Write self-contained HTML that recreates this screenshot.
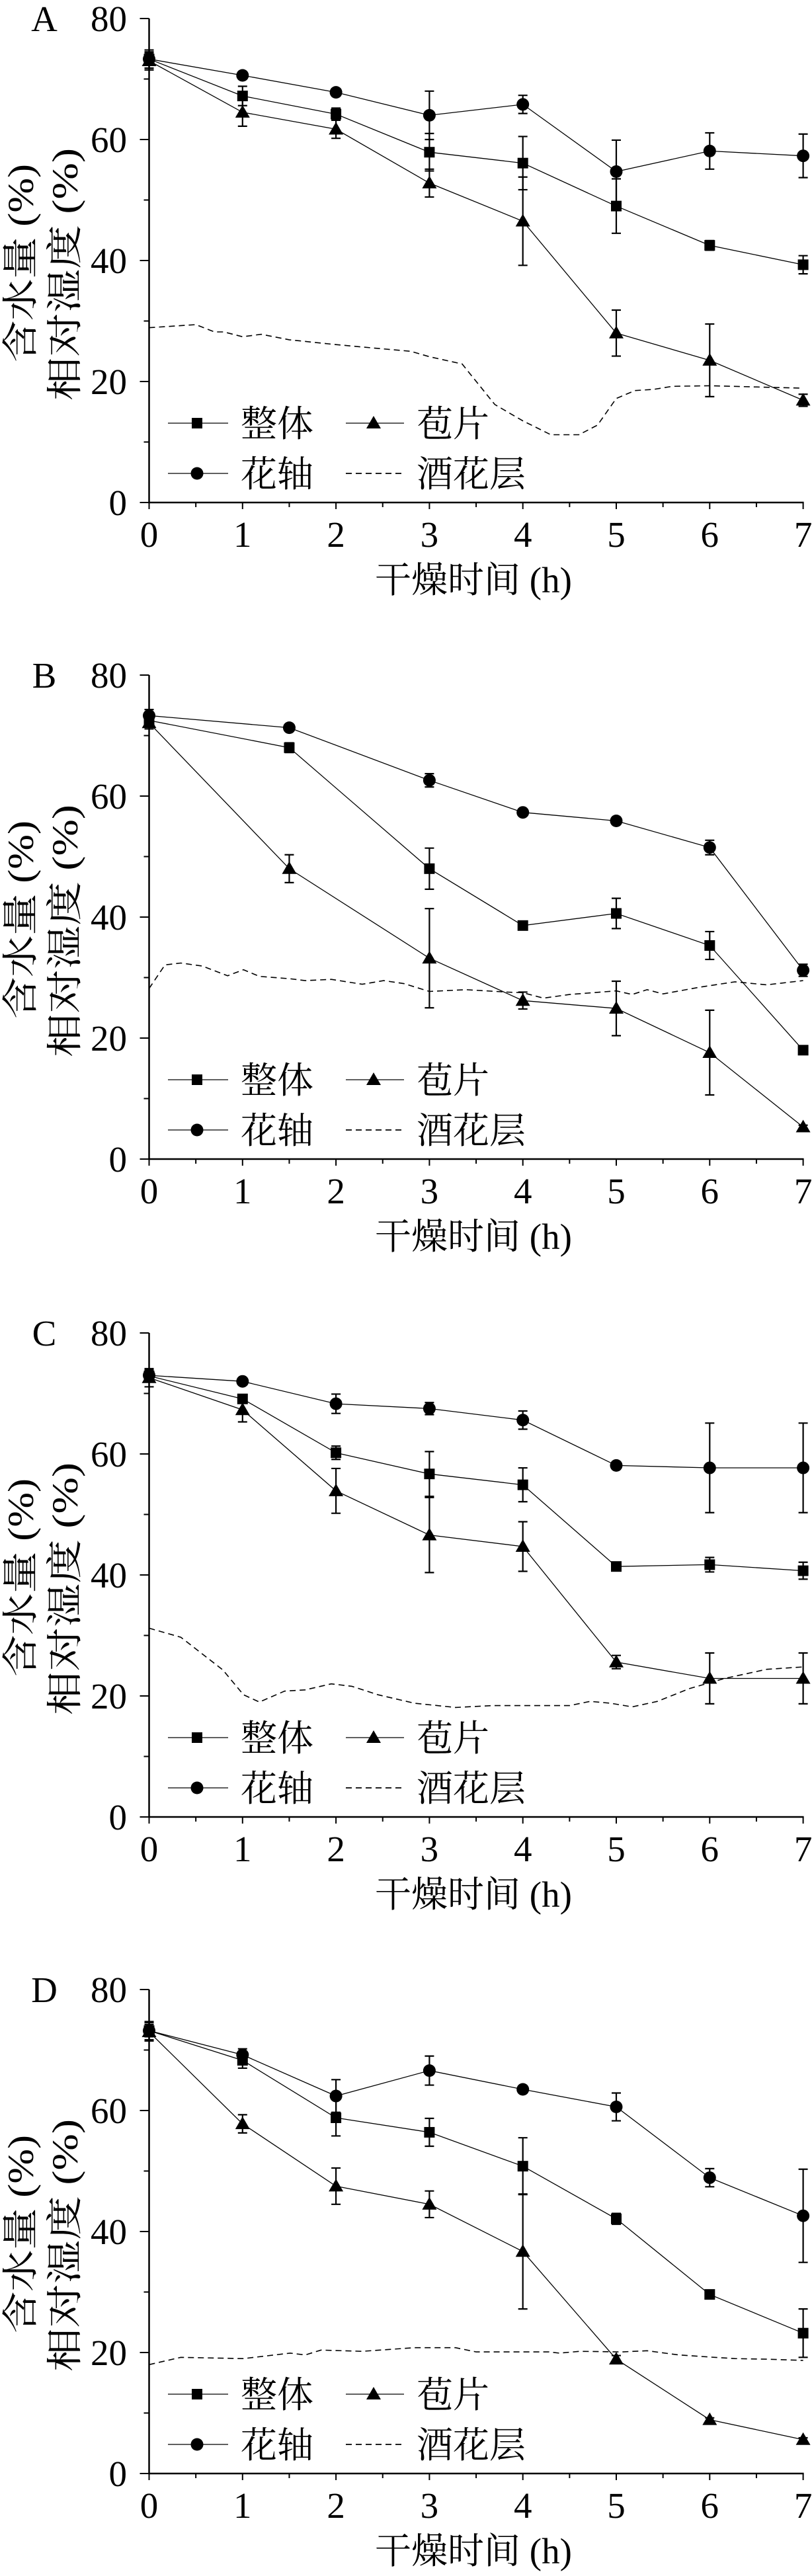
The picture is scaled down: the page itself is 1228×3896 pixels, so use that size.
<!DOCTYPE html>
<html><head><meta charset="utf-8">
<style>
html,body{margin:0;padding:0;background:#fff;}
svg{display:block;}
text{font-family:"Liberation Serif","Noto Serif CJK SC","Noto Sans CJK SC",serif;fill:#000;}
</style></head>
<body>
<svg id="chart" width="1228" height="3896" viewBox="0 0 1228 3896" xmlns="http://www.w3.org/2000/svg"></svg>
<script>
// ---- data ----
const panelLetters = ["A","B","C","D"];
const panelTops = [28, 1021, 2016, 3009];
const yTicks = [0,20,40,60,80];
const xTicks = [0,1,2,3,4,5,6,7];

const xA = [0,1,2,3,4,5,6,7];
const wholeA = [73.3,67.2,64.2,57.9,56.1,49.0,42.5,39.3];
const wholeErrA = [1.5,1.6,1.0,3.1,4.4,4.5,0.8,1.5];
const axisA = [73.3,70.6,67.8,64.0,65.8,54.7,58.1,57.3];
const axisErrA = [1,0.5,0.6,4.0,1.5,5.2,3.0,3.6];
const bractA = [73.0,64.5,61.7,52.8,46.5,28.0,23.5,16.9];
const bractErrA = [1.5,2.3,1.5,2.3,7.3,3.8,6.0,1.0];
const rhXA = [0,0.5,0.7,0.8,1.0,1.2,1.5,2.0,2.5,2.8,3.0,3.35,3.7,4.0,4.3,4.6,4.8,5.0,5.2,5.4,5.6,6.0,7.0];
const rhA = [28.9,29.4,28.2,28.2,27.4,27.8,26.9,26.1,25.4,25.0,24.1,22.9,16.2,13.5,11.2,11.2,12.8,17.2,18.5,18.7,19.2,19.3,18.9];

const xB = [0,1.5,3,4,5,6,7];
const wholeB = [72.5,68.0,48.0,38.6,40.6,35.3,18.0];
const wholeErrB = [1,0.8,3.4,0.5,2.5,2.3,0.6];
const axisB = [73.3,71.3,62.6,57.3,55.9,51.5,31.2];
const axisErrB = [1,0.5,1.1,0.5,0.5,1.2,1.0];
const bractB = [72.1,48.0,33.2,26.2,24.9,17.6,5.3];
const bractErrB = [1,2.3,8.2,1.4,4.5,7.0,0.3];
const rhXB = [0,0.17,0.34,0.57,0.84,1.01,1.18,1.51,1.67,1.95,2.28,2.51,2.73,3.0,3.39,3.84,4.0,4.22,4.5,5.0,5.17,5.33,5.5,5.89,6.27,6.61,7.0];
const rhB = [28.2,32.1,32.4,31.9,30.3,31.3,30.2,29.8,29.5,29.7,28.9,29.5,29.0,27.7,28.0,27.6,27.5,26.6,27.2,27.8,27.2,28.0,27.3,28.4,29.3,28.8,29.5];

const xC = [0,1,2,3,4,5,6,7];
const wholeC = [72.9,69.1,60.2,56.7,54.9,41.4,41.7,40.7];
const wholeErrC = [1,0.7,1.1,3.7,2.8,0.5,1.2,1.4];
const axisC = [73.0,72.0,68.3,67.5,65.6,58.1,57.7,57.7];
const axisErrC = [1,0.5,1.6,1.0,1.5,0.5,7.4,7.4];
const bractC = [72.6,67.3,53.9,46.6,44.7,25.6,22.9,22.9];
const bractErrC = [1.5,2.0,3.7,6.2,4.1,1.1,4.2,4.2];
const rhXC = [0,0.34,0.79,1.01,1.18,1.45,1.67,1.95,2.17,2.45,2.84,3.28,3.67,4.5,4.72,4.94,5.17,5.44,5.78,6.16,6.61,7.0];
const rhC = [31.2,29.7,24.3,20.2,19.0,20.8,21.0,22.0,21.6,20.2,18.8,18.1,18.4,18.4,19.1,18.8,18.2,19.1,21.2,22.9,24.4,24.8];

const xD = [0,1,2,3,4,5,6,7];
const wholeD = [73.2,68.3,58.8,56.4,50.8,42.1,29.6,23.2];
const wholeErrD = [1.5,1.3,3.0,2.3,4.7,0.9,0.7,4.0];
const axisD = [73.2,69.2,62.4,66.6,63.5,60.6,48.9,42.6];
const axisErrD = [1,1.0,2.7,2.4,0.5,2.3,1.5,7.7];
const bractD = [73.0,57.8,47.5,44.5,36.7,18.9,8.9,5.6];
const bractErrD = [1.5,1.5,3.0,2.2,9.5,0.6,0.3,0.3];
const rhXD = [0,0.34,1.01,1.51,1.67,1.84,2.28,2.84,3.28,3.5,4.28,4.39,4.61,5.06,5.33,5.67,6.05,6.27,6.61,7.0];
const rhD = [18.0,19.2,19.0,19.9,19.6,20.4,20.2,20.8,20.8,20.1,20.1,19.9,20.2,20.1,20.3,19.6,19.2,19.0,18.9,18.7];

const panels = [
 {x:xA,w:wholeA,we:wholeErrA,a:axisA,ae:axisErrA,b:bractA,be:bractErrA,rx:rhXA,r:rhA},
 {x:xB,w:wholeB,we:wholeErrB,a:axisB,ae:axisErrB,b:bractB,be:bractErrB,rx:rhXB,r:rhB},
 {x:xC,w:wholeC,we:wholeErrC,a:axisC,ae:axisErrC,b:bractC,be:bractErrC,rx:rhXC,r:rhC},
 {x:xD,w:wholeD,we:wholeErrD,a:axisD,ae:axisErrD,b:bractD,be:bractErrD,rx:rhXD,r:rhD}
];

// ---- drawing ----
const NS = "http://www.w3.org/2000/svg";
const svg = document.getElementById("chart");
const X0 = 225.5, XW = 141.3, PH = 732;
function xs(h){ return X0 + h*XW; }
function mk(tag, attrs, parent){
  const e = document.createElementNS(NS, tag);
  for (const k in attrs) e.setAttribute(k, attrs[k]);
  (parent||svg).appendChild(e);
  return e;
}
function marker(g, kind, cx, cy){
  let m;
  if (kind === "square") m = mk("rect",{x:cx-8,y:cy-8,width:16,height:16,fill:"#000"},g);
  else if (kind === "circle") m = mk("circle",{cx:cx,cy:cy,r:9.5,fill:"#000"},g);
  else m = mk("polygon",{points:`${cx},${cy-11} ${cx+11},${cy+8} ${cx-11},${cy+8}`,fill:"#000"},g);
  return m;
}

panels.forEach((p, i) => {
  const T = panelTops[i];
  const ys = v => T + (80 - v) / 80 * PH;
  const g = mk("g", {});
  
  

  const letter = mk("text",{x:67,y:T+19,"font-size":55,"text-anchor":"middle"},g);
  letter.textContent = panelLetters[i];
  
  

  // axes
  const ax = mk("path",{d:`M${X0} ${T} V${T+PH} H${xs(7)+1}`,stroke:"#000","stroke-width":2.5,fill:"none"},g);
  
  
  for (let v = 0; v <= 80; v += 10) {
    const major = v % 20 === 0;
    mk("line",{x1:X0-(major?14:8),x2:X0,y1:ys(v),y2:ys(v),stroke:"#000","stroke-width":2},g);
  }
  yTicks.forEach(v => {
    const t = mk("text",{x:192,y:ys(v)+19,"font-size":55,"text-anchor":"end"},g);
    t.textContent = v;
    
    
  });
  for (let h = 0; h <= 7.01; h += 0.5) {
    const major = Math.abs(h - Math.round(h)) < 0.01;
    mk("line",{x1:xs(h),x2:xs(h),y1:T+PH,y2:T+PH+(major?10:7),stroke:"#000","stroke-width":2},g);
  }
  xTicks.forEach(h => {
    const t = mk("text",{x:xs(h),y:T+PH+67,"font-size":55,"text-anchor":"middle"},g);
    t.textContent = h;
    
    
  });
  const xt = mk("text",{x:716,y:T+868,"font-size":55,"text-anchor":"middle"},g);
  xt.textContent = "干燥时间 (h)";
  
  
  const yt1 = mk("text",{transform:`translate(50 ${T+370}) rotate(-90)`,"font-size":55,"text-anchor":"middle",textLength:300,lengthAdjust:"spacingAndGlyphs"},g);
  yt1.textContent = "含水量 (%)";
  
  
  const yt2 = mk("text",{transform:`translate(117 ${T+387}) rotate(-90)`,"font-size":55,"text-anchor":"middle",textLength:382,lengthAdjust:"spacingAndGlyphs"},g);
  yt2.textContent = "相对湿度 (%)";
  
  

  // RH dashed
  const rd = p.rx.map((h,k) => (k?"L":"M") + xs(h).toFixed(1) + " " + ys(p.r[k]).toFixed(1)).join(" ");
  const rl = mk("path",{d:rd,stroke:"#000","stroke-width":1.6,fill:"none","stroke-dasharray":"9 6"},g);
  
  

  // series
  [["whole",p.w,p.we,"square"],["axis",p.a,p.ae,"circle"],["bract",p.b,p.be,"triangle"]].forEach(s => {
    const sg = mk("g",{},g);
    
    
    const d = p.x.map((h,k) => (k?"L":"M") + xs(h).toFixed(1) + " " + ys(s[1][k]).toFixed(1)).join(" ");
    mk("path",{d:d,stroke:"#000","stroke-width":1.3,fill:"none"},sg);
    p.x.forEach((h,k) => {
      const cx = xs(h), lo = ys(s[1][k]-s[2][k]), hi = ys(s[1][k]+s[2][k]);
      const eb = mk("path",{d:`M${cx} ${lo} V${hi} M${cx-7} ${lo} H${cx+7} M${cx-7} ${hi} H${cx+7}`,stroke:"#000","stroke-width":2.2,fill:"none"},sg);
      
      
      const m = marker(sg, s[3], cx, ys(s[1][k]));
      
      
    });
  });

  // legend
  const lg = mk("g",{},g);
  
  
  const r1 = T+612, r2 = T+688;
  [[254,345,298,r1,"square","整体",364],[523,611,565,r1,"triangle","苞片",630],[254,345,298,r2,"circle","花轴",364],[523,611,565,r2,"dash","酒花层",630]].forEach(e => {
    const eg = mk("g",{},lg);
    
    
    mk("line",{x1:e[0],x2:e[1],y1:e[3],y2:e[3],stroke:"#000","stroke-width":e[4]==="dash"?1.8:1.3,"stroke-dasharray":e[4]==="dash"?"9 6":"none"},eg);
    if (e[4] !== "dash") marker(eg, e[4], e[2], e[3]);
    const t = mk("text",{x:e[6],y:e[3]+20,"font-size":55},eg);
    t.textContent = e[5];
  });
});
</script>
</body></html>
